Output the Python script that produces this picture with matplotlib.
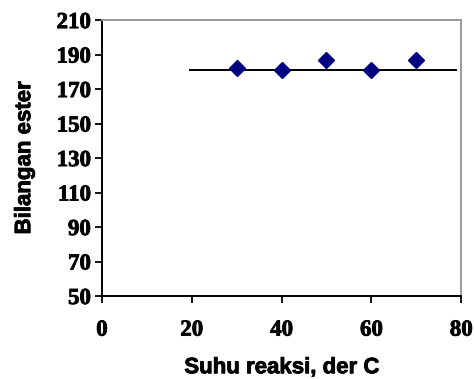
import matplotlib

matplotlib.use("Agg")
import matplotlib.pyplot as plt
import matplotlib.patheffects as pe

# data
temps = [30, 40, 50, 60, 70]
ester = [182, 181, 187, 181, 187]
fit_x = [19.6, 78.8]
fit_level = 181.3

x_ticks = [0, 20, 40, 60, 80]
y_ticks = [50, 70, 90, 110, 130, 150, 170, 190, 210]

fig = plt.figure(figsize=(4.74, 3.79), dpi=100)
ax = fig.add_axes([0.215, 0.219, 0.758, 0.728])

ax.plot(fit_x, [fit_level, fit_level], color="black", linewidth=1.4, zorder=2)
ax.plot(temps, ester, linestyle="none", marker="D", markersize=8,
        color="#000080", zorder=3)

ax.set_xlim(0, 80)
ax.set_ylim(50, 210)
ax.set_xticks(x_ticks)
ax.set_yticks(y_ticks)

heavy = [pe.withStroke(linewidth=0.6, foreground="black")]
tick_font = dict(family="Liberation Serif", weight="bold", size=16.5)
ax.set_xticklabels([str(v) for v in x_ticks], fontdict=tick_font, path_effects=heavy)
ax.set_yticklabels([str(v) for v in y_ticks], fontdict=tick_font, path_effects=heavy)
ax.tick_params(direction="out", length=5, width=1.3, color="black", pad=12)
ax.tick_params(axis="y", pad=3)

for side in ("left", "bottom"):
    ax.spines[side].set_color("black")
    ax.spines[side].set_linewidth(1.4)
for side in ("top", "right"):
    ax.spines[side].set_color("#999999")
    ax.spines[side].set_linewidth(1.4)

label_font = dict(family="Liberation Sans", weight="bold", size=16)
ax.set_xlabel("Suhu reaksi, der C", fontdict=label_font, path_effects=heavy, va="center")
ax.set_ylabel("Bilangan ester", fontdict=label_font, path_effects=heavy, va="center")
ax.xaxis.set_label_coords(0.5, -0.26)
ax.yaxis.set_label_coords(-0.215, 0.5)

plt.savefig("out.png", dpi=100)
plt.close()
